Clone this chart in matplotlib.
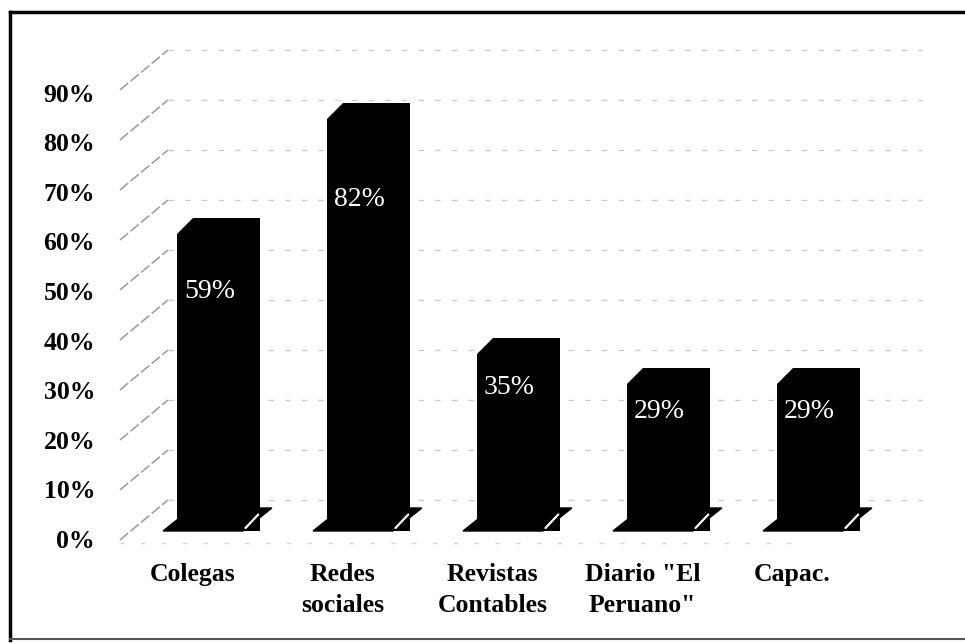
import matplotlib.pyplot as plt
from matplotlib.patches import Polygon
from matplotlib.lines import Line2D
import numpy as np

categories = ['Colegas', 'Redes\nsociales', 'Revistas\nContables', 'Diario "El\nPeruano"', 'Capac.']
values = [59, 82, 35, 29, 29]
value_labels = ['59%', '82%', '35%', '29%', '29%']
tick_values = [0, 10, 20, 30, 40, 50, 60, 70, 80, 90]
tick_labels = ['0%', '10%', '20%', '30%', '40%', '50%', '60%', '70%', '80%', '90%']

serif = ['Liberation Serif', 'DejaVu Serif']

fig = plt.figure(figsize=(9.65, 6.43), dpi=100)
ax = fig.add_axes([0, 0, 1, 1])
ax.set_xlim(-1.4567, 4.9767)
ax.set_ylim(-26, 102.6)
ax.axis('off')

x = np.arange(len(categories))

# --- back wall gridlines and side wall diagonals (fake 3D) ---
for v in tick_values:
    ax.plot([-0.337, 4.69], [v + 2.6, v + 2.6], color='#cccccc', lw=1.0,
            linestyle=(0, (4, 8)), zorder=1)
    ax.plot([-0.657, -0.337], [v - 5.4, v + 2.6], color='#999999', lw=1.1,
            linestyle=(0, (7, 2)), zorder=1)
ax.plot([-0.657, 3.9], [-6.0, -6.0], color='#d4d4d4', lw=1.0,
        linestyle=(0, (3, 12)), zorder=1)

# --- bars ---
base = -3.6
bw = 0.55
ax.bar(x, np.array(values) + 3.6, bottom=base, width=bw, color='black', zorder=3)

for xi, v in zip(x, values):
    left = xi - bw / 2
    # chamfer at the top-left corner (bar top seen in perspective)
    ax.add_patch(Polygon([[left - 0.01, v - 3], [left - 0.01, v + 0.5], [left + 0.107, v + 0.5]],
                         closed=True, color='white', zorder=4))
    # floor plate under the bar
    ax.add_patch(Polygon([[xi - 0.37, base], [xi + 0.163, base],
                          [xi + 0.356, base + 4.6], [xi - 0.177, base + 4.6]],
                         closed=True, color='black', zorder=2))
    ax.plot([xi + 0.18, xi + 0.265], [base + 0.6, base + 3.3], color='white',
            lw=1.6, solid_capstyle='round', zorder=5)

# --- value labels inside bars ---
for xi, v, lab in zip(x, values, value_labels):
    ax.text(xi - 0.06, 0.8 * v - 3, lab, color='white', fontsize=20,
            family=serif, ha='center', va='center', zorder=6)

# --- y tick labels ---
for v, lab in zip(tick_values, tick_labels):
    ax.text(-0.823, 0.992 * v - 5.7, lab, fontsize=18.5, fontweight='bold',
            family=serif, ha='right', va='center')

# --- category labels ---
for xi, lab in zip(x, categories):
    ax.text(xi - 0.173, -10.0, lab, fontsize=18.5, fontweight='bold',
            family=serif, ha='center', va='top', linespacing=1.45)

# --- frame (scanned border) ---
fig.add_artist(Line2D([10 / 965, 10 / 965], [3 / 643, 631 / 643], color='black', lw=2.5))
fig.add_artist(Line2D([10 / 965, 1.0], [631 / 643, 631 / 643], color='black', lw=2.5))
fig.add_artist(Line2D([10 / 965, 1.0], [4 / 643, 4 / 643], color='#555555', lw=1.5))

plt.savefig('out.png', dpi=100)
